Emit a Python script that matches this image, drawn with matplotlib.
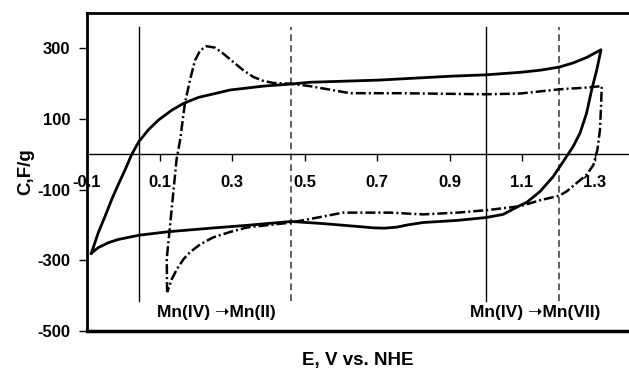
import numpy as np
import matplotlib
matplotlib.use("Agg")
import matplotlib.pyplot as plt

plt.rcParams['font.family'] = ['Liberation Sans', 'DejaVu Sans']
plt.rcParams['font.weight'] = 'bold'
plt.rcParams['axes.unicode_minus'] = False

# solid CV loop (E in V vs NHE, C in F/g)
solid_E = [-0.088, -0.069, -0.050, -0.032, -0.014, 0.005, 0.023, 0.043, 0.069, 0.097,
           0.134, 0.166, 0.207, 0.253, 0.294, 0.386, 0.463, 0.515, 0.703, 0.901,
           1.0, 1.094, 1.15, 1.203, 1.242, 1.278, 1.318,
           1.306, 1.292, 1.278, 1.26, 1.241, 1.214, 1.186, 1.15, 1.113, 1.094,
           1.048, 1.0, 0.921, 0.827, 0.783, 0.755, 0.72, 0.69, 0.645, 0.551, 0.463,
           0.341, 0.253, 0.124, 0.043, -0.014, -0.041, -0.069, -0.088]
solid_C = [-280, -222, -175, -128, -86, -44, -1, 36, 69, 97,
           125, 144, 161, 172, 182, 193, 199, 204, 210, 221,
           225, 232, 238, 247, 259, 274, 296,
           238, 182, 116, 60, 22, -20, -63, -105, -136, -145,
           -170, -179, -187, -193, -200, -206, -209, -208, -204, -196, -190,
           -201, -208, -219, -229, -241, -250, -264, -280]

# dash-dot CV loop
dash_E = [0.121, 0.12, 0.129, 0.138, 0.147, 0.157, 0.17, 0.184, 0.198, 0.212,
          0.23, 0.253, 0.276, 0.304, 0.331, 0.359, 0.386, 0.414, 0.46, 0.515,
          0.626, 0.763, 1.0, 1.094, 1.203, 1.278, 1.32,
          1.318, 1.315, 1.308, 1.297, 1.278, 1.251, 1.223, 1.203, 1.15, 1.094,
          1.003, 0.921, 0.827, 0.736, 0.606, 0.551, 0.463, 0.341, 0.294, 0.248,
          0.212, 0.184, 0.166, 0.148, 0.134, 0.121]
dash_C = [-390, -295, -203, -109, -15, 41, 144, 210, 266, 294,
          306, 302, 285, 261, 238, 219, 208, 202, 200, 193,
          173, 173, 170, 172, 184, 189, 193,
          135, 69, 13, -30, -58, -81, -105, -117, -130, -147,
          -158, -165, -170, -165, -165, -176, -193, -207, -220, -235,
          -255, -277, -297, -325, -353, -390]

# marker lines for the redox potentials
solid_vlines = [0.043, 1.0]
dashed_vlines = [0.463, 1.202]
vline_range = [-415, 360]

labels = ['Mn(IV) \u279dMn(II)', 'Mn(IV) \u279dMn(VII)']
label_E = [0.256, 1.136]
label_C = -449

fig = plt.figure(figsize=(6.29, 3.69), dpi=100)
ax = fig.add_axes([87/629, 38/369, 543.75/629, 318/369])

for v in solid_vlines:
    ax.plot([v, v], vline_range, color='black', lw=1)
for v in dashed_vlines:
    ax.plot([v, v], vline_range, color='#444444', lw=1.2, dashes=(4, 2.5))

ax.plot(solid_E, solid_C, color='black', lw=2)
ax.plot(dash_E, dash_C, color='black', lw=1.8, dashes=(4, 1.2, 0.8, 1.2))

for t, e in zip(labels, label_E):
    ax.text(e, label_C, t, ha='center', va='center', fontsize=12.5, fontweight='bold')

ax.set_xlim(-0.1, 1.4)
ax.set_ylim(-500, 400)
ax.set_xticks([-0.1, 0.1, 0.3, 0.5, 0.7, 0.9, 1.1, 1.3])
ax.set_xticklabels(['-0.1', '0.1', '0.3', '0.5', '0.7', '0.9', '1.1', '1.3'])
ax.set_yticks([-500, -300, -100, 100, 300])

ax.spines['bottom'].set_position(('data', 0))
ax.spines['bottom'].set_linewidth(1)
ax.spines['right'].set_visible(False)
ax.spines['left'].set_linewidth(2)
ax.spines['top'].set_linewidth(2)
ax.axhline(-500, color='black', lw=2.5, clip_on=False)

ax.tick_params(axis='x', direction='out', length=5, width=1, pad=10, labelsize=12)
ax.tick_params(axis='y', direction='out', length=6, width=1, pad=6, labelsize=12)

ax.set_xlabel('E, V vs. NHE', fontsize=13.5, fontweight='bold')
ax.xaxis.set_label_coords(0.5 * 542 / 543.75, -0.065)
ax.set_ylabel('C,F/g', fontsize=13.5, fontweight='bold', labelpad=2)

fig.savefig('out.png', dpi=100)
